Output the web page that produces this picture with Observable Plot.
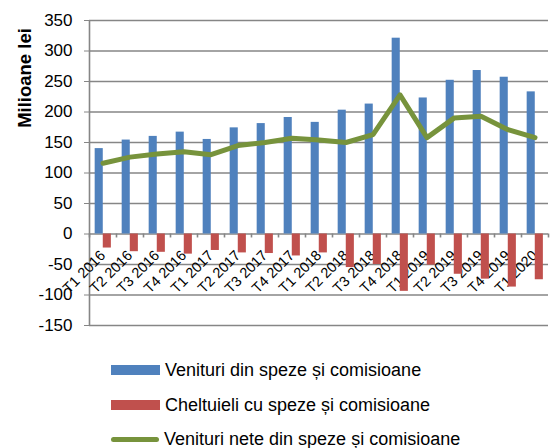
<!DOCTYPE html>
<html>
<head>
<meta charset="utf-8">
<script src="https://cdn.jsdelivr.net/npm/d3@7"></script>
<script src="https://cdn.jsdelivr.net/npm/@observablehq/plot@0.6"></script>
<style>
  html, body { margin: 0; padding: 0; background: #fff; }
  body { width: 555px; height: 448px; position: relative; overflow: hidden; font-family: "Liberation Sans", Arial, sans-serif; }
  #chart { position: absolute; left: 0; top: 0; }
  .leg { position: absolute; left: 111px; height: 22px; display: flex; align-items: center; font-size: 18px; color: #000; white-space: nowrap; }
  .sw { width: 49px; height: 10px; margin-right: 5px; }
  .ln { width: 48px; height: 5px; border-radius: 3px; margin-right: 5px; }
</style>
</head>
<body>
<div id="chart"></div>
<div class="leg" style="top:359px;"><div class="sw" style="background:#4f81bd"></div><span id="l0"></span></div>
<div class="leg" style="top:394px;"><div class="sw" style="background:#c0504d"></div><span id="l1"></span></div>
<div class="leg" style="top:428px;"><div class="ln" style="background:#77933c"></div><span id="l2"></span></div>
<script>
const categories = ["T1 2016","T2 2016","T3 2016","T4 2016","T1 2017","T2 2017","T3 2017","T4 2017","T1 2018","T2 2018","T3 2018","T4 2018","T1 2019","T2 2019","T3 2019","T4 2019","T1 2020"];
const venituri   = [140,154,160,167,155,174,181,191,183,203,213,321,223,252,268,257,233];
const cheltuieli = [-23,-29,-30,-33,-27,-31,-32,-36,-31,-55,-50,-94,-51,-66,-74,-87,-75];
const nete       = [116,126,131,135,130,145,150,157,154,150,163,228,158,190,193,171,158];
const yTicks = [-150,-100,-50,0,50,100,150,200,250,300,350];
const seriesNames = ["Venituri din speze și comisioane","Cheltuieli cu speze și comisioane","Venituri nete din speze și comisioane"];
const yLabel = "Milioane lei";

const bounds = d3.range(categories.length + 1).map(i => i + 0.5);
const rows = categories.map((c, i) => ({cat: c, i: i + 1, v: venituri[i], c: cheltuieli[i], n: nete[i]}));

const chart = Plot.plot({
  width: 555,
  height: 335,
  marginTop: 20,
  marginBottom: 10,
  marginLeft: 89,
  marginRight: 7,
  style: {fontFamily: "'Liberation Sans', Arial, sans-serif", color: "#000", background: "#fff"},
  x: {type: "linear", domain: [0.5, categories.length + 0.5], axis: null},
  y: {domain: [-150, 350], axis: null},
  marks: [
    Plot.ruleY(yTicks, {stroke: "#868686", strokeWidth: 1.6}),
    Plot.ruleX([0.5], {stroke: "#868686", strokeWidth: 1.6}),
    Plot.axisY({ticks: yTicks, tickSize: 5, tickPadding: 12, stroke: "#868686", fontSize: 17, label: null, tickFormat: d => String(d)}),
    Plot.ruleX(bounds, {y1: 0, y2: -6.5, stroke: "#868686", strokeWidth: 1.6}),
    Plot.text(rows, {x: "i", y: () => 0, text: "cat", rotate: -45, textAnchor: "end", lineAnchor: "middle", dx: 0, dy: 19, fontSize: 14.5, fill: "#000"}),
    Plot.rectY(rows, {x1: d => d.i - 0.29, x2: d => d.i + 0.01, y1: 0, y2: "v", fill: "#4f81bd"}),
    Plot.rectY(rows, {x1: d => d.i + 0.01, x2: d => d.i + 0.31, y1: 0, y2: "c", fill: "#c0504d"}),
    Plot.line(rows, {x: "i", y: "n", stroke: "#77933c", strokeWidth: 5, strokeLinejoin: "round", strokeLinecap: "round"}),
    Plot.text([yLabel], {frameAnchor: "top-left", dx: -72, dy: 57.5, rotate: -90, textAnchor: "middle", fontWeight: "bold", fontSize: 18.5, fill: "#000"})
  ]
});
document.getElementById("chart").appendChild(chart);
seriesNames.forEach((s, i) => document.getElementById("l" + i).textContent = s);
</script>
</body>
</html>
